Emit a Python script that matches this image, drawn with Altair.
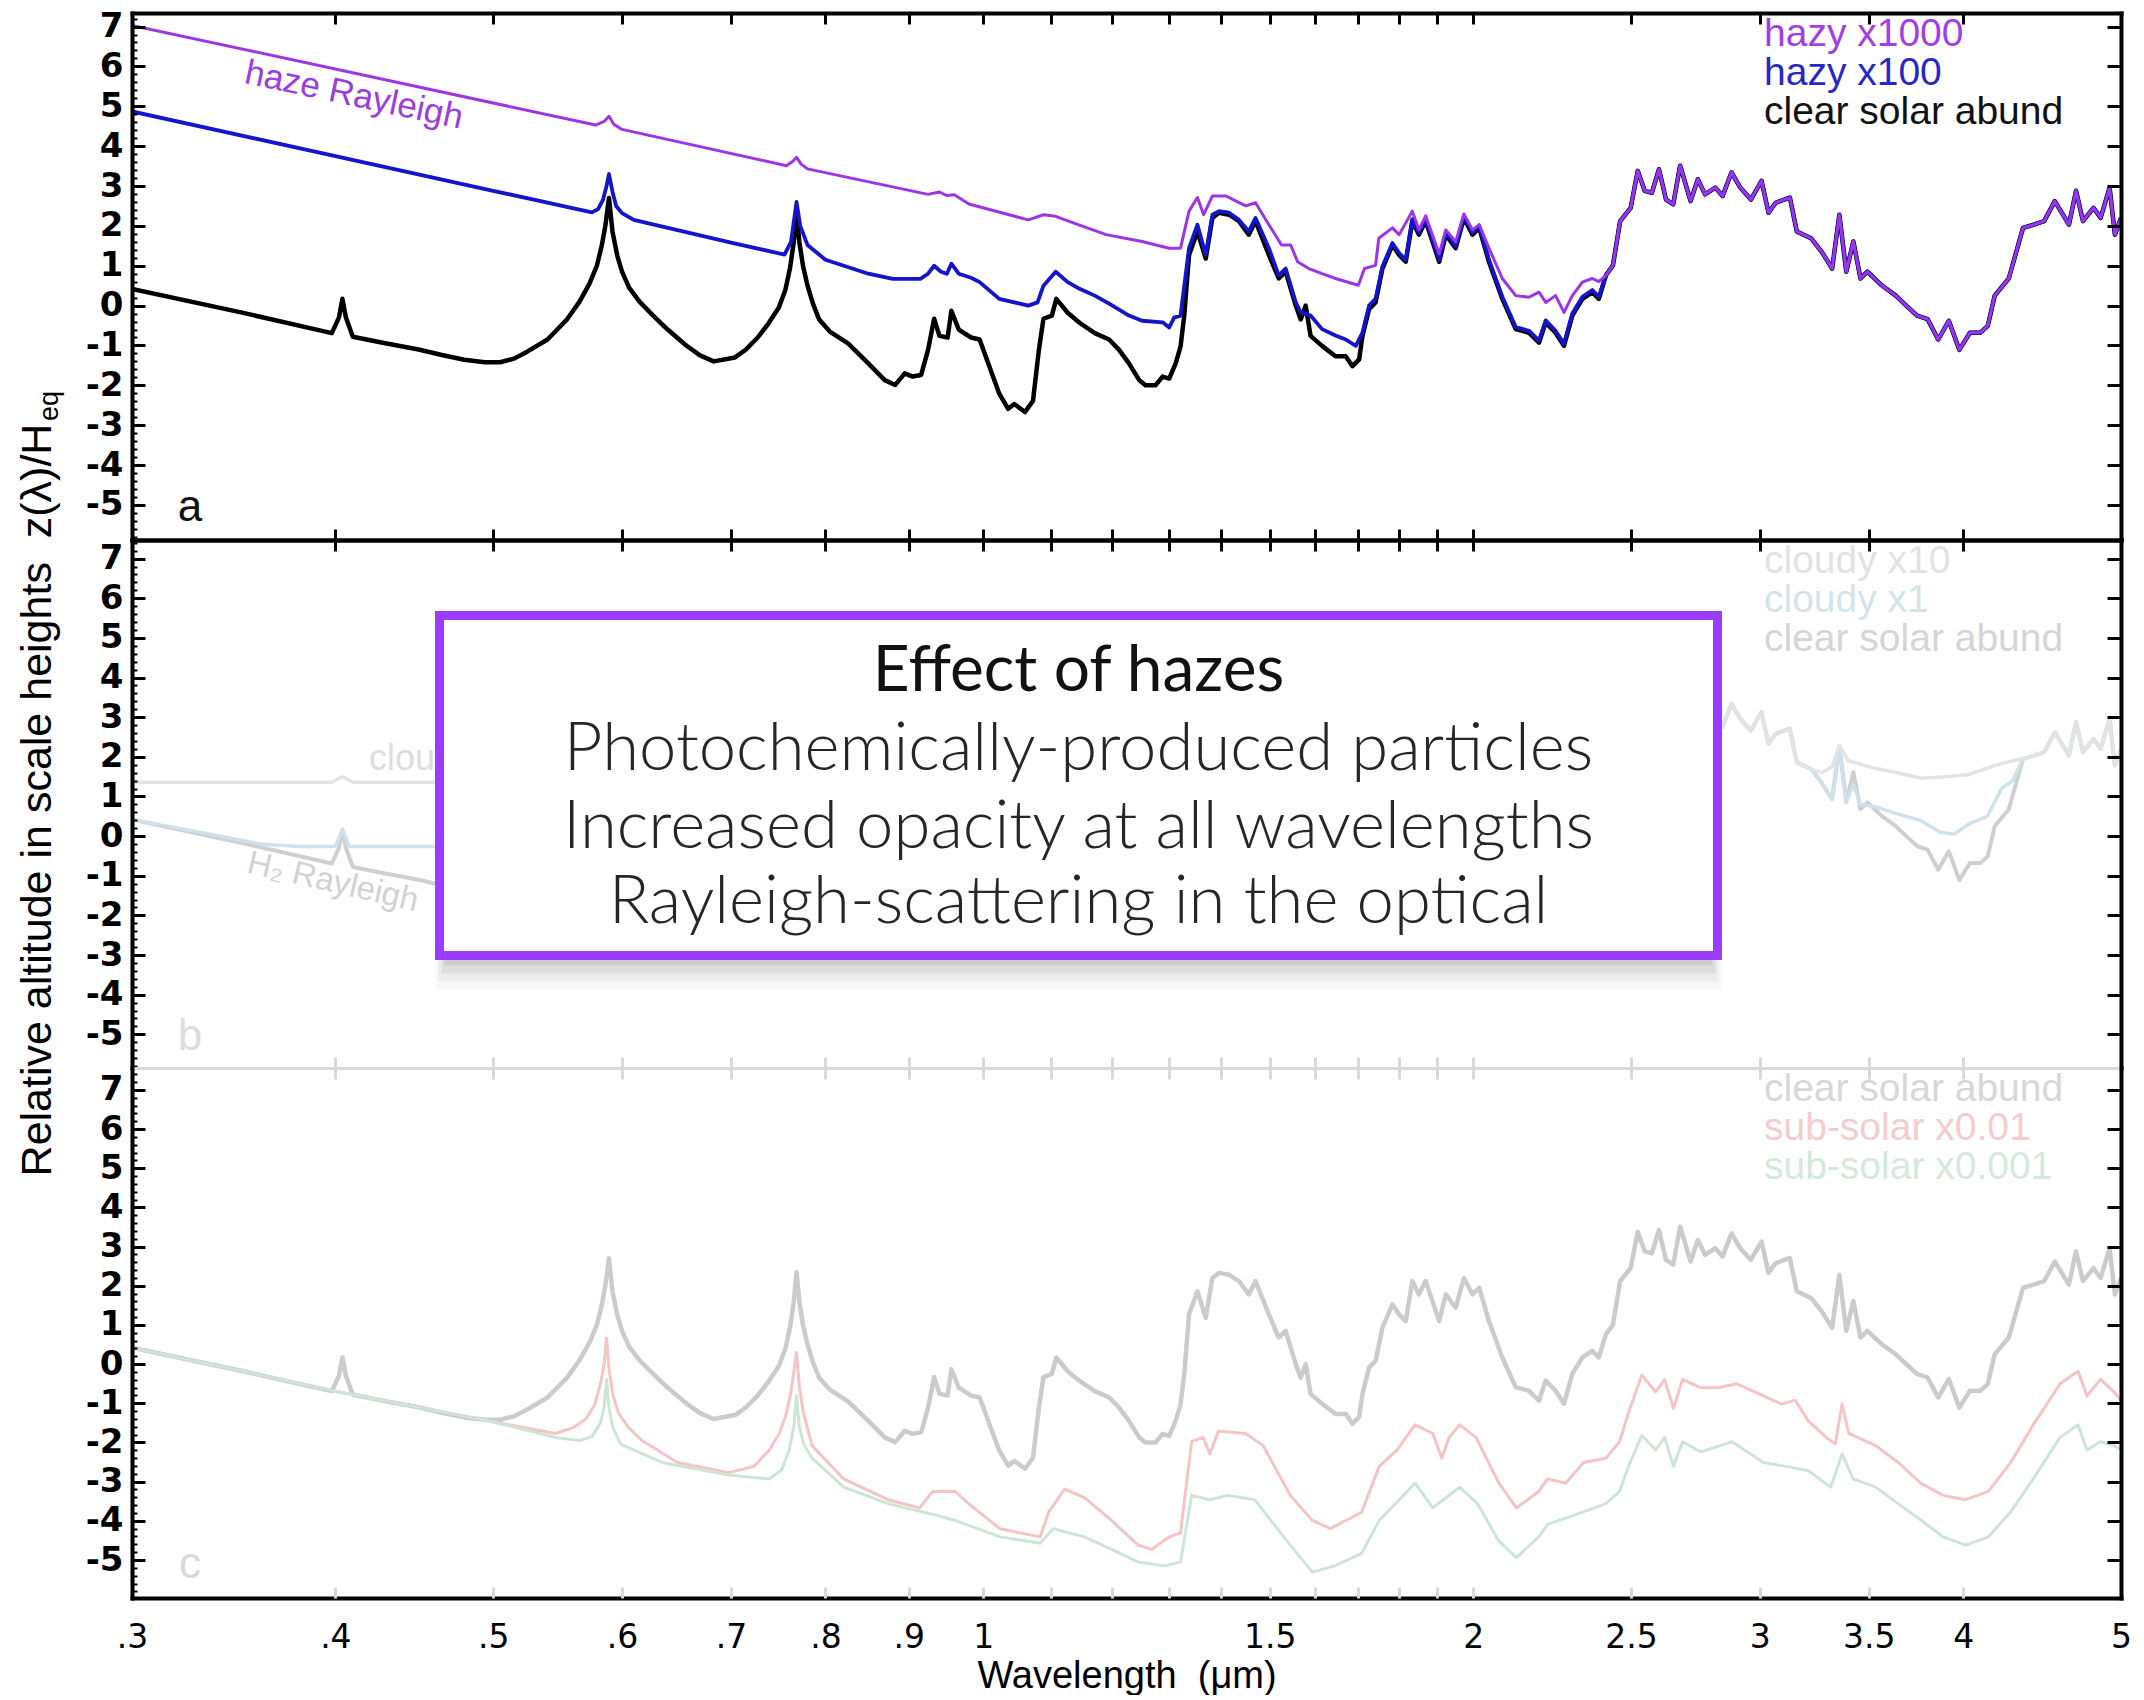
import altair as alt
import pandas as pd

# ----------------------------------------------------------------- data
# (wavelength in micron, z/H_eq)
CLEAR_SOLAR = [
    (0.300, 0.42), (0.350, -0.17), (0.398, -0.69), (0.402, -0.30), (0.404, 0.17),
    (0.406, -0.30), (0.410, -0.78), (0.430, -0.95), (0.450, -1.10), (0.465, -1.24),
    (0.480, -1.36), (0.494, -1.42), (0.505, -1.42), (0.515, -1.33), (0.525, -1.15),
    (0.540, -0.85), (0.555, -0.35), (0.565, 0.10), (0.573, 0.55), (0.579, 1.00),
    (0.583, 1.50), (0.586, 2.00), (0.589, 2.70), (0.592, 1.85), (0.596, 1.25),
    (0.600, 0.85), (0.606, 0.45), (0.615, 0.10), (0.627, -0.25), (0.640, -0.60),
    (0.657, -1.00), (0.670, -1.25), (0.683, -1.40), (0.704, -1.30), (0.715, -1.10),
    (0.727, -0.80), (0.738, -0.45), (0.749, -0.05), (0.756, 0.40), (0.761, 0.95),
    (0.765, 1.60), (0.768, 2.35), (0.771, 1.60), (0.775, 1.00), (0.780, 0.50),
    (0.786, 0.05), (0.793, -0.35), (0.805, -0.65), (0.826, -0.95),
    (0.850, -1.45), (0.870, -1.87), (0.883, -1.99), (0.895, -1.70), (0.905, -1.78),
    (0.916, -1.74), (0.925, -1.11), (0.933, -0.33), (0.940, -0.76), (0.951, -0.80),
    (0.956, -0.13), (0.966, -0.60), (0.983, -0.80), (0.995, -0.85), (1.007, -1.44),
    (1.023, -2.21), (1.036, -2.59), (1.045, -2.47), (1.061, -2.67), (1.073, -2.39),
    (1.082, -1.11), (1.089, -0.33), (1.102, -0.25), (1.109, 0.17), (1.127, -0.18),
    (1.146, -0.43), (1.171, -0.69), (1.195, -0.85), (1.212, -1.11), (1.229, -1.45),
    (1.247, -1.87), (1.258, -2.00), (1.276, -2.00), (1.289, -1.78), (1.301, -1.83),
    (1.313, -1.45), (1.322, -1.03), (1.329, -0.25), (1.338, 1.27), (1.354, 1.86),
    (1.370, 1.18), (1.383, 2.20), (1.396, 2.33), (1.416, 2.28), (1.436, 2.12),
    (1.456, 1.78), (1.470, 2.12), (1.498, 1.27), (1.519, 0.68), (1.534, 0.85),
    (1.556, 0.00), (1.567, -0.35), (1.578, 0.00), (1.589, -0.76), (1.615, -1.01),
    (1.646, -1.27), (1.670, -1.27), (1.686, -1.52), (1.702, -1.35), (1.710, -0.76),
    (1.726, -0.09), (1.742, 0.08), (1.759, 0.93), (1.784, 1.52), (1.801, 1.27),
    (1.818, 1.10), (1.835, 2.12), (1.852, 1.78), (1.870, 2.12), (1.906, 1.10),
    (1.924, 1.78), (1.951, 1.44), (1.974, 2.20), (1.998, 1.78), (2.017, 1.95),
    (2.045, 1.10), (2.084, 0.17), (2.124, -0.59), (2.164, -0.68), (2.195, -0.93),
    (2.216, -0.42), (2.247, -0.68), (2.274, -1.01), (2.301, -0.25), (2.334, 0.17),
    (2.367, 0.34), (2.389, 0.17), (2.413, 0.76), (2.437, 1.01), (2.462, 2.12),
    (2.499, 2.45), (2.524, 3.38), (2.549, 2.88), (2.575, 2.83), (2.601, 3.42),
    (2.627, 2.66), (2.654, 2.54), (2.680, 3.51), (2.720, 2.62), (2.748, 3.17),
    (2.776, 2.79), (2.817, 2.96), (2.846, 2.75), (2.882, 3.34), (2.918, 2.96),
    (2.962, 2.66), (3.007, 3.13), (3.037, 2.33), (3.068, 2.58), (3.130, 2.71),
    (3.161, 1.86), (3.225, 1.69), (3.274, 1.35), (3.323, 0.93), (3.357, 2.28),
    (3.390, 0.85), (3.424, 1.61), (3.459, 0.68), (3.493, 0.85), (3.564, 0.51),
    (3.636, 0.25), (3.690, 0.00), (3.747, -0.25), (3.803, -0.34), (3.861, -0.85),
    (3.919, -0.38), (3.978, -1.11), (4.038, -0.68), (4.098, -0.68), (4.141, -0.51),
    (4.182, 0.25), (4.266, 0.68), (4.353, 1.95), (4.419, 2.03), (4.485, 2.12),
    (4.553, 2.62), (4.645, 2.03), (4.692, 2.88), (4.738, 2.12), (4.809, 2.45),
    (4.858, 2.20), (4.920, 2.96), (4.957, 1.78), (5.000, 2.20),
]

HAZY_X100_SHORT = [
    (0.300, 4.87), (0.400, 3.75), (0.500, 2.88), (0.575, 2.34), (0.580, 2.42),
    (0.584, 2.65), (0.587, 3.00), (0.589, 3.30), (0.592, 2.85), (0.595, 2.50),
    (0.600, 2.32), (0.610, 2.15), (0.700, 1.58), (0.755, 1.28), (0.762, 1.60),
    (0.768, 2.60), (0.772, 2.00), (0.780, 1.52), (0.800, 1.15), (0.850, 0.80),
    (0.880, 0.67), (0.915, 0.67),
    (0.925, 0.80), (0.933, 1.00), (0.942, 0.85), (0.950, 0.80), (0.956, 1.05),
    (0.966, 0.80), (0.983, 0.70), (0.995, 0.59), (1.023, 0.17), (1.066, 0.00),
    (1.080, 0.08), (1.089, 0.50), (1.108, 0.85), (1.127, 0.59), (1.146, 0.42),
    (1.171, 0.25), (1.195, 0.05), (1.229, -0.25), (1.252, -0.38), (1.289, -0.42),
    (1.301, -0.55), (1.310, -0.30), (1.322, -0.25), (1.338, 1.44), (1.354, 2.03),
    (1.370, 1.27), (1.383, 2.28), (1.396, 2.37), (1.416, 2.33), (1.436, 2.15),
    (1.456, 1.86), (1.470, 2.20), (1.498, 1.44), (1.519, 0.76), (1.534, 0.93),
    (1.556, 0.08), (1.567, -0.17), (1.589, -0.25), (1.615, -0.59), (1.646, -0.75),
    (1.670, -0.85), (1.694, -1.01), (1.710, -0.68), (1.726, 0.00), (1.742, 0.17),
    (1.759, 0.98), (1.784, 1.57), (1.801, 1.32), (1.818, 1.15), (1.835, 2.17),
    (1.852, 1.83), (1.870, 2.17), (1.906, 1.15), (1.924, 1.83), (1.951, 1.49),
    (1.974, 2.25), (1.998, 1.83), (2.017, 2.00), (2.045, 1.15), (2.084, 0.22),
    (2.124, -0.54), (2.164, -0.63), (2.195, -0.88), (2.216, -0.37), (2.247, -0.63),
    (2.274, -0.96), (2.301, -0.20), (2.334, 0.22), (2.367, 0.39), (2.389, 0.22),
]

HAZY_X1000_SHORT = [
    (0.300, 7.03), (0.578, 4.53), (0.585, 4.62), (0.589, 4.75), (0.593, 4.55),
    (0.600, 4.42), (0.757, 3.51), (0.764, 3.62), (0.768, 3.72), (0.773, 3.55),
    (0.780, 3.43), (0.925, 2.79), (0.940, 2.85), (0.950, 2.76), (0.960, 2.78),
    (0.980, 2.55), (1.066, 2.15), (1.089, 2.28), (1.108, 2.24), (1.146, 2.02),
    (1.190, 1.78), (1.252, 1.61), (1.301, 1.44), (1.322, 1.44), (1.338, 2.37),
    (1.354, 2.71), (1.366, 2.28), (1.383, 2.75), (1.410, 2.75), (1.430, 2.62),
    (1.450, 2.50), (1.470, 2.58), (1.498, 2.03), (1.525, 1.52), (1.545, 1.52),
    (1.560, 1.10), (1.585, 0.93), (1.615, 0.80), (1.646, 0.68), (1.700, 0.51),
    (1.715, 0.93), (1.742, 1.01), (1.750, 1.69), (1.784, 1.95), (1.801, 1.78),
    (1.835, 2.37), (1.852, 1.90), (1.870, 2.25), (1.906, 1.30), (1.924, 1.90),
    (1.951, 1.60), (1.974, 2.30), (1.998, 1.90), (2.017, 2.03), (2.045, 1.44),
    (2.084, 0.68), (2.124, 0.25), (2.164, 0.21), (2.195, 0.34), (2.216, 0.08),
    (2.247, 0.25), (2.274, -0.17), (2.301, 0.25), (2.334, 0.59), (2.367, 0.68),
    (2.389, 0.60),
]

CLOUDY_X1_SHORT = [
    (0.300, 0.42), (0.330, 0.10), (0.360, -0.20), (0.380, -0.26), (0.400, -0.26),
    (0.404, 0.17), (0.408, -0.26), (0.555, -0.26), (0.573, 0.59), (0.584, 1.86),
    (0.589, 2.70), (0.596, 1.30), (0.606, 0.42), (0.627, -0.18), (0.640, -0.26),
    (0.745, -0.26), (0.760, 0.93), (0.768, 2.35), (0.776, 0.76), (0.793, -0.26),
    (1.105, -0.26), (1.109, 0.17), (1.127, -0.18), (1.140, -0.26), (1.329, -0.25),
    (1.338, 1.27), (1.354, 1.86), (1.370, 1.18), (1.383, 2.20), (1.396, 2.33),
    (1.416, 2.28), (1.436, 2.12), (1.456, 1.78), (1.470, 2.12), (1.498, 1.27),
    (1.519, 0.68), (1.534, 0.85), (1.556, 0.00), (1.567, -0.20), (1.700, -0.22),
    (1.726, -0.09), (1.742, 0.08), (1.759, 0.93), (1.784, 1.52), (1.801, 1.27),
    (1.818, 1.10), (1.835, 2.12), (1.852, 1.78), (1.870, 2.12), (1.906, 1.10),
    (1.924, 1.78), (1.951, 1.44), (1.974, 2.20), (1.998, 1.78), (2.017, 1.95),
    (2.045, 1.10), (2.084, 0.17), (2.124, -0.15), (2.300, -0.15), (2.334, 0.17),
    (2.367, 0.34), (2.389, 0.17),
]
CLOUDY_X1_DIP = [
    (3.390, 0.85), (3.424, 1.30), (3.459, 0.80), (3.524, 0.75), (3.645, 0.56),
    (3.769, 0.39), (3.871, 0.10), (3.950, 0.05), (4.029, 0.30), (4.139, 0.50),
    (4.223, 1.20), (4.290, 1.40),
]

CLOUDY_X10_SHORT = [
    (0.300, 1.36), (0.398, 1.36), (0.404, 1.50), (0.410, 1.36), (0.580, 1.36),
    (0.584, 1.86), (0.589, 2.70), (0.592, 2.00), (0.596, 1.36), (0.760, 1.36),
    (0.765, 1.60), (0.768, 2.35), (0.772, 1.50), (0.776, 1.36), (1.330, 1.36),
    (1.338, 1.45), (1.354, 1.86), (1.370, 1.40), (1.383, 2.20), (1.396, 2.33),
    (1.416, 2.28), (1.436, 2.12), (1.456, 1.78), (1.470, 2.12), (1.498, 1.40),
    (1.520, 1.36), (1.770, 1.40), (1.784, 1.52), (1.801, 1.40), (1.835, 2.12),
    (1.852, 1.78), (1.870, 2.12), (1.906, 1.45), (1.924, 1.78), (1.951, 1.50),
    (1.974, 2.20), (1.998, 1.78), (2.017, 1.95), (2.045, 1.50), (2.100, 1.45),
    (2.437, 1.50),
]
CLOUDY_X10_DIP = [
    (3.274, 1.60), (3.323, 1.75), (3.357, 2.28), (3.400, 1.90), (3.524, 1.72),
    (3.645, 1.60), (3.769, 1.46), (3.900, 1.50), (4.029, 1.55), (4.195, 1.80),
    (4.310, 1.92),
]

SUB_SOLAR_X001 = [
    (0.300, 0.42), (0.350, -0.17), (0.400, -0.69), (0.450, -1.10), (0.497, -1.45),
    (0.546, -1.77), (0.560, -1.62), (0.570, -1.40), (0.577, -1.05), (0.582, -0.50),
    (0.585, 0.00), (0.587, 0.67), (0.589, -0.10), (0.592, -0.75), (0.597, -1.25),
    (0.605, -1.60), (0.617, -1.95), (0.649, -2.51), (0.698, -2.77),
    (0.723, -2.61), (0.739, -2.19), (0.750, -1.75), (0.757, -1.25), (0.762, -0.70),
    (0.768, 0.30), (0.771, -0.55), (0.775, -1.20), (0.785, -2.08), (0.821, -2.93),
    (0.874, -3.46), (0.914, -3.67),
    (0.931, -3.25), (0.961, -3.25), (0.980, -3.57), (1.024, -4.20), (1.084, -4.41),
    (1.097, -3.78), (1.122, -3.19), (1.154, -3.41), (1.199, -3.99), (1.245, -4.62),
    (1.269, -4.73), (1.301, -4.41), (1.322, -4.31), (1.343, -1.98), (1.365, -1.87),
    (1.378, -2.29), (1.395, -1.71), (1.449, -1.77), (1.486, -2.08), (1.544, -3.35),
    (1.593, -3.99), (1.634, -4.20), (1.708, -3.78), (1.751, -2.61), (1.796, -2.19),
    (1.842, -1.55), (1.889, -1.77), (1.913, -2.40), (1.933, -1.87), (1.962, -1.55),
    (2.008, -1.87), (2.074, -3.04), (2.126, -3.67), (2.194, -3.25), (2.222, -2.93),
    (2.279, -3.04), (2.338, -2.51), (2.413, -2.40), (2.460, -1.98), (2.491, -1.24),
    (2.539, -0.28), (2.589, -0.71), (2.622, -0.39), (2.655, -1.13), (2.689, -0.39),
    (2.759, -0.60), (2.830, -0.60), (2.902, -0.50), (3.015, -0.81), (3.093, -1.02),
    (3.153, -0.92), (3.213, -1.45), (3.295, -1.87), (3.338, -2.03), (3.370, -1.02),
    (3.402, -1.77), (3.534, -2.08), (3.648, -2.51), (3.767, -3.04), (3.888, -3.35),
    (4.014, -3.46), (4.144, -3.25), (4.278, -2.51), (4.416, -1.55), (4.587, -0.50),
    (4.705, -0.18), (4.765, -0.81), (4.857, -0.39), (4.951, -0.71), (5.000, -0.92),
]

SUB_SOLAR_X0001 = [
    (0.300, 0.42), (0.350, -0.17), (0.400, -0.69), (0.450, -1.10), (0.497, -1.45),
    (0.546, -1.87), (0.565, -1.95), (0.575, -1.85), (0.582, -1.50), (0.585, -1.10),
    (0.587, -0.39), (0.589, -1.10), (0.592, -1.60), (0.599, -2.05), (0.635, -2.51),
    (0.698, -2.83), (0.739, -2.93), (0.752, -2.70), (0.760, -2.20), (0.765, -1.60),
    (0.768, -0.80), (0.771, -1.60), (0.776, -2.05), (0.785, -2.40),
    (0.821, -3.14), (0.874, -3.56), (0.931, -3.83), (0.961, -3.99), (1.024, -4.41),
    (1.084, -4.57), (1.104, -4.20), (1.154, -4.41), (1.199, -4.73), (1.245, -5.05),
    (1.293, -5.15), (1.322, -5.05), (1.343, -3.35), (1.378, -3.46), (1.413, -3.35),
    (1.468, -3.46), (1.544, -4.62), (1.593, -5.31), (1.644, -5.15), (1.708, -4.83),
    (1.751, -3.99), (1.842, -3.04), (1.889, -3.67), (1.933, -3.35), (1.962, -3.14),
    (2.012, -3.56), (2.074, -4.52), (2.126, -4.94), (2.194, -4.41), (2.222, -4.09),
    (2.338, -3.77), (2.413, -3.56), (2.460, -3.25), (2.491, -2.61), (2.539, -1.82),
    (2.589, -2.19), (2.622, -1.87), (2.655, -2.61), (2.689, -1.98), (2.759, -2.24),
    (2.884, -1.98), (3.015, -2.51), (3.113, -2.61), (3.213, -2.72), (3.317, -3.14),
    (3.370, -2.29), (3.423, -2.93), (3.534, -3.14), (3.648, -3.56), (3.767, -3.98),
    (3.888, -4.41), (4.014, -4.62), (4.144, -4.41), (4.278, -3.77), (4.416, -2.93),
    (4.587, -1.87), (4.705, -1.55), (4.765, -2.19), (4.857, -1.98), (4.951, -2.08),
    (5.000, -2.19),
]


def segment(points, lo, hi=99.0):
    return [p for p in points if lo <= p[0] <= hi]


# where the spectra coincide with the clear one
HAZY_X100 = HAZY_X100_SHORT + segment(CLEAR_SOLAR, 2.41)
HAZY_X1000 = HAZY_X1000_SHORT + segment(CLEAR_SOLAR, 2.41)
CLOUDY_X1 = CLOUDY_X1_SHORT + segment(CLEAR_SOLAR, 2.41, 3.36) + CLOUDY_X1_DIP + segment(CLEAR_SOLAR, 4.35)
CLOUDY_X10 = CLOUDY_X10_SHORT + segment(CLEAR_SOLAR, 2.46, 3.23) + CLOUDY_X10_DIP + segment(CLEAR_SOLAR, 4.35)

X_LABEL_VALUES = [0.3, 0.4, 0.5, 0.6, 0.7, 0.8, 0.9, 1.0, 1.5, 2.0, 2.5, 3.0, 3.5, 4.0, 5.0]
X_TICK_VALUES = [0.4, 0.5, 0.6, 0.7, 0.8, 0.9, 1.0, 1.1, 1.2, 1.3, 1.4, 1.5, 1.6, 1.7,
                 1.8, 1.9, 2.0, 2.5, 3.0, 3.5, 4.0]
Y_TICK_VALUES = [-5, -4, -3, -2, -1, 0, 1, 2, 3, 4, 5, 6, 7]
Y_MINOR_VALUES = [round(-5.8 + 0.2 * i, 1) for i in range(67)]

BOX_LINES = [
    "Effect of hazes",
    "Photochemically-produced particles",
    "Increased opacity at all wavelengths",
    "Rayleigh-scattering in the optical",
]

# ----------------------------------------------------------------- style
FONT_TICK = "DejaVu Sans"
FONT_TEXT = "Liberation Sans"
FONT_BOX = "Lato"
W = 1989
GREY_EDGE = "#d9d9d9"
ONE = pd.DataFrame({"k": [0]})
NBSP = "\u00a0"


def df_of(points):
    return pd.DataFrame(points, columns=["lam", "z"])


def text_mark(text, x, y, size, color, font=FONT_TEXT, weight="normal",
              angle=0, align="left"):
    return alt.Chart(ONE).mark_text(
        text=text, font=font, fontSize=size, fontWeight=weight, color=color,
        angle=angle, align=align, baseline="middle",
    ).encode(x=alt.value(x), y=alt.value(y))


def axis(**kw):
    base = dict(grid=False, zindex=2, labelOverlap=False, labelFlush=False)
    base.update(kw)
    return alt.Axis(**base)


def panel(series, ydom, height, top_dom, top_tick, bot_dom, bot_tick,
          xlabels=False, ytitle=None, ytitle_y=0, extras=()):
    xs = alt.Scale(type="log", domain=[0.3, 5.0], nice=False)
    ys = alt.Scale(domain=ydom, nice=False, zero=False)
    base = df_of(series[0][0])
    minor = [v for v in Y_MINOR_VALUES if ydom[0] < v < ydom[1]]
    top_w = 3 if top_dom == GREY_EDGE else 4
    bot_w = 3 if bot_dom == GREY_EDGE else 4

    left_kw = dict(orient="left", domain=True, domainColor="black", domainWidth=4,
                   domainCap="square", ticks=False, labels=True, values=Y_TICK_VALUES,
                   labelExpr="'' + datum.value", labelFont=FONT_TICK, labelFontSize=34,
                   labelFontWeight="bold", labelColor="black", labelPadding=9)
    if ytitle:
        left_kw.update(title=ytitle, titleFont=FONT_TEXT, titleFontSize=43,
                       titleFontWeight="normal", titleColor="black", titleAngle=270,
                       titleX=-95, titleY=ytitle_y, titleAlign="center",
                       titleBaseline="middle")
    else:
        left_kw.update(title=None)
    left_dom = axis(**left_kw)

    bot_kw = dict(orient="bottom", domain=True, domainColor=bot_dom, domainWidth=bot_w,
                  domainCap="square", ticks=False, values=X_LABEL_VALUES)
    if xlabels:
        bot_kw.update(labels=True,
                      labelExpr="datum.value < 1 ? '.' + round(datum.value * 10) : '' + datum.value",
                      labelFont=FONT_TICK, labelFontSize=33, labelFontWeight="normal",
                      labelColor="black", labelPadding=23,
                      title="Wavelength" + NBSP + NBSP + "(\u03bcm)", titleFont=FONT_TEXT,
                      titleFontSize=38, titleFontWeight="normal", titleColor="black",
                      titlePadding=3)
    else:
        bot_kw.update(labels=False, title=None)
    bot_domain = axis(**bot_kw)

    bot_ticks = axis(orient="bottom", offset=-11, tickSize=11, tickWidth=3,
                     tickColor=bot_tick, domain=False, labels=False,
                     values=X_TICK_VALUES, title=None)
    top_domain = axis(orient="top", domain=True, domainColor=top_dom, domainWidth=top_w,
                      domainCap="square", ticks=False, labels=False, title=None)
    top_ticks = axis(orient="top", offset=-11, tickSize=11, tickWidth=3,
                     tickColor=top_tick, domain=False, labels=False,
                     values=X_TICK_VALUES, title=None)
    left_major = axis(orient="left", offset=-13, tickSize=13, tickWidth=3,
                      tickColor="black", domain=False, labels=False,
                      values=Y_TICK_VALUES, title=None)
    left_minor = axis(orient="left", offset=-5, tickSize=5, tickWidth=2,
                      tickColor="black", domain=False, labels=False,
                      values=minor, title=None)
    right_domain = axis(orient="right", domain=True, domainColor="black",
                        domainWidth=4, domainCap="square", ticks=False,
                        labels=False, title=None)
    right_ticks = axis(orient="right", offset=-14, tickSize=14, tickWidth=3,
                       tickColor="black", domain=False, labels=False,
                       values=Y_TICK_VALUES, title=None)

    def ax_layer(xa, ya):
        return alt.Chart(base).mark_point(opacity=0, size=1).encode(
            x=alt.X("lam:Q", scale=xs, axis=xa),
            y=alt.Y("z:Q", scale=ys, axis=ya))

    layers = []
    for pts, color, width in series:
        layers.append(
            alt.Chart(df_of(pts)).mark_line(
                color=color, strokeWidth=width, clip=True, strokeJoin="round"
            ).encode(
                x=alt.X("lam:Q", scale=xs, axis=None),
                y=alt.Y("z:Q", scale=ys, axis=None),
            )
        )
    layers += [
        ax_layer(bot_domain, left_dom),
        ax_layer(bot_ticks, left_major),
        ax_layer(top_domain, right_domain),
        ax_layer(top_ticks, right_ticks),
        ax_layer(None, left_minor),
    ]
    layers += list(extras)
    return alt.layer(*layers).resolve_axis(x="independent", y="independent").properties(
        width=W, height=height)


LEG_X = 1632
LEG_Y = [21, 60, 99]

# ---------------- panel a
extras_a = [
    text_mark("hazy x1000", LEG_X, LEG_Y[0], 39, "#a23ee6"),
    text_mark("hazy x100", LEG_X, LEG_Y[1], 39, "#2828c8"),
    text_mark("clear solar abund", LEG_X, LEG_Y[2], 39, "#111111"),
    text_mark("haze Rayleigh", 222, 82, 35, "#9a3ee0", angle=12, align="center"),
    text_mark("a", 58, 495, 44, "#111111", align="center"),
]
pa = panel(
    [(CLEAR_SOLAR, "#000000", 4.5), (HAZY_X100, "#1414cc", 3.8), (HAZY_X1000, "#9c35e6", 3.0)],
    [-5.88, 7.34], 527, "black", "black", "black", "black", extras=extras_a)

# ---------------- panel b (faded) + hazes box
BOX_X, BOX_X2, BOX_Y, BOX_Y2 = 307.5, 1585.5, 75.5, 415.5
shadows = []
for dx, dy, op in [(2, 34, 0.03), (5, 26, 0.045), (8, 18, 0.06), (11, 10, 0.08)]:
    shadows.append(
        alt.Chart(ONE).mark_rect(color="#000000", opacity=op).encode(
            x=alt.value(BOX_X - 6 + dx), x2=alt.value(BOX_X2 + 6 - dx),
            y=alt.value(BOX_Y + 20), y2=alt.value(BOX_Y2 + dy))
    )
box = alt.Chart(ONE).mark_rect(fill="#ffffff", stroke="#9b3dff", strokeWidth=9).encode(
    x=alt.value(BOX_X), x2=alt.value(BOX_X2), y=alt.value(BOX_Y), y2=alt.value(BOX_Y2))
box_center = (BOX_X + BOX_X2) / 2
box_text = [text_mark(BOX_LINES[0], box_center, 132, 64, "#111111", font=FONT_BOX,
                      weight="normal", align="center")]
for line, yy in zip(BOX_LINES[1:], [210, 288, 363]):
    box_text.append(text_mark(line, box_center, yy, 67, "#262626", font=FONT_BOX,
                              weight=300, align="center"))

extras_b = [
    text_mark("cloudy x10", LEG_X, LEG_Y[0], 39, "#e2e2e2"),
    text_mark("cloudy x1", LEG_X, LEG_Y[1], 39, "#d4e3ea"),
    text_mark("clear solar abund", LEG_X, LEG_Y[2], 39, "#d5d5d5"),
    text_mark("cloud deck", 237, 219, 36, "#dddddd"),
    text_mark("H\u2082 Rayleigh", 201, 342, 33, "#d2d2d2", angle=13, align="center"),
    text_mark("b", 58, 497, 44, "#dcdcdc", align="center"),
    text_mark("eq", -82, -134, 27, "#000000", angle=270, align="center"),
] + shadows + [box] + box_text
pb = panel(
    [(CLEAR_SOLAR, "#cfcfcf", 4.0), (CLOUDY_X1, "#cfe1ea", 3.5), (CLOUDY_X10, "#e3e3e3", 3.5)],
    [-5.85, 7.47], 528, "black", "black", GREY_EDGE, GREY_EDGE,
    ytitle="Relative altitude in scale heights" + NBSP + NBSP + "z(\u03bb)/H",
    ytitle_y=259.5, extras=extras_b)

# ---------------- panel c (faded)
extras_c = [
    text_mark("clear solar abund", LEG_X, LEG_Y[0], 39, "#d7d7d7"),
    text_mark("sub-solar x0.01", LEG_X, LEG_Y[1], 39, "#f6cccc"),
    text_mark("sub-solar x0.001", LEG_X, LEG_Y[2], 39, "#d4e9dc"),
    text_mark("c", 58, 497, 44, "#d9d9d9", align="center"),
]
pc = panel(
    [(CLEAR_SOLAR, "#cbcbcb", 4.5), (SUB_SOLAR_X001, "#f5c4c4", 3.0), (SUB_SOLAR_X0001, "#cde5d6", 3.0)],
    [-5.97, 7.56], 530, GREY_EDGE, GREY_EDGE, "black", GREY_EDGE,
    xlabels=True, extras=extras_c)

chart = alt.vconcat(pa, pb, pc, spacing=0, bounds="flush").properties(
    padding={"left": 15, "top": 9, "right": 10, "bottom": 0},
    background="white",
).configure_view(stroke=None)

chart.save("out.html", embed_options={"renderer": "svg", "actions": False})
